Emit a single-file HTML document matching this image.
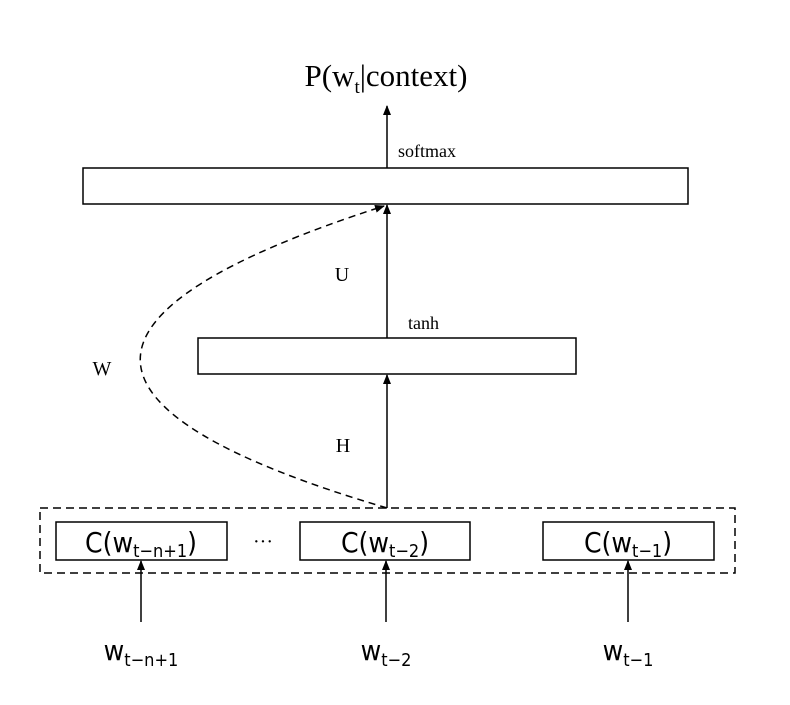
<!DOCTYPE html>
<html><head><meta charset="utf-8"><style>
html,body{margin:0;padding:0;background:#fff;}
</style></head><body>
<svg width="790" height="700" viewBox="0 0 790 700" xmlns="http://www.w3.org/2000/svg" font-family="Liberation Serif, serif" fill="#000">
<defs>
<marker id="b" markerWidth="10" markerHeight="8" refX="9" refY="4" orient="auto" markerUnits="userSpaceOnUse">
<path d="M0,0 L10,4 L0,8 Z" fill="#000"/>
</marker>
</defs>
<text x="386" y="86" font-size="31" text-anchor="middle">P(w<tspan font-size="19" dy="7">t</tspan><tspan dy="-7">|context)</tspan></text>
<line x1="387" y1="168" x2="387" y2="106" stroke="#000" stroke-width="1.5" marker-end="url(#b)"/>
<text x="398" y="157" font-size="18">softmax</text>
<rect x="83" y="168" width="605" height="36" fill="none" stroke="#000" stroke-width="1.5"/>
<line x1="387" y1="338" x2="387" y2="205" stroke="#000" stroke-width="1.5" marker-end="url(#b)"/>
<text x="342" y="281" font-size="20" text-anchor="middle">U</text>
<text x="408" y="329" font-size="18">tanh</text>
<rect x="198" y="338" width="378" height="36" fill="none" stroke="#000" stroke-width="1.5"/>
<line x1="387" y1="508" x2="387" y2="375" stroke="#000" stroke-width="1.5" marker-end="url(#b)"/>
<text x="343" y="452" font-size="20" text-anchor="middle">H</text>
<text x="102" y="375" font-size="20" text-anchor="middle">W</text>
<path d="M387,508 Q-105,363 384,206" fill="none" stroke="#000" stroke-width="1.5" stroke-dasharray="7,5" marker-end="url(#b)"/>
<rect x="40" y="508" width="695" height="65" fill="none" stroke="#000" stroke-width="1.5" stroke-dasharray="8,5"/>
<rect x="56" y="522" width="171" height="38" fill="none" stroke="#000" stroke-width="1.5"/>
<rect x="300" y="522" width="170" height="38" fill="none" stroke="#000" stroke-width="1.5"/>
<rect x="543" y="522" width="171" height="38" fill="none" stroke="#000" stroke-width="1.5"/>
<g font-family="DejaVu Sans Condensed, DejaVu Sans, sans-serif" font-size="28">
<text x="141" y="552" text-anchor="middle">C(w<tspan font-size="18" dy="5">t−n+1</tspan><tspan dy="-5">)</tspan></text>
<text x="385" y="552" text-anchor="middle">C(w<tspan font-size="18" dy="5">t−2</tspan><tspan dy="-5">)</tspan></text>
<text x="628" y="552" text-anchor="middle">C(w<tspan font-size="18" dy="5">t−1</tspan><tspan dy="-5">)</tspan></text>
<text x="141" y="660" text-anchor="middle">w<tspan font-size="18" dy="6">t−n+1</tspan></text>
<text x="386" y="660" text-anchor="middle">w<tspan font-size="18" dy="6">t−2</tspan></text>
<text x="628" y="660" text-anchor="middle">w<tspan font-size="18" dy="6">t−1</tspan></text>
</g>
<text x="263" y="548" font-size="20" text-anchor="middle">···</text>
<line x1="141" y1="622" x2="141" y2="561" stroke="#000" stroke-width="1.5" marker-end="url(#b)"/>
<line x1="386" y1="622" x2="386" y2="561" stroke="#000" stroke-width="1.5" marker-end="url(#b)"/>
<line x1="628" y1="622" x2="628" y2="561" stroke="#000" stroke-width="1.5" marker-end="url(#b)"/>
</svg>
</body></html>
